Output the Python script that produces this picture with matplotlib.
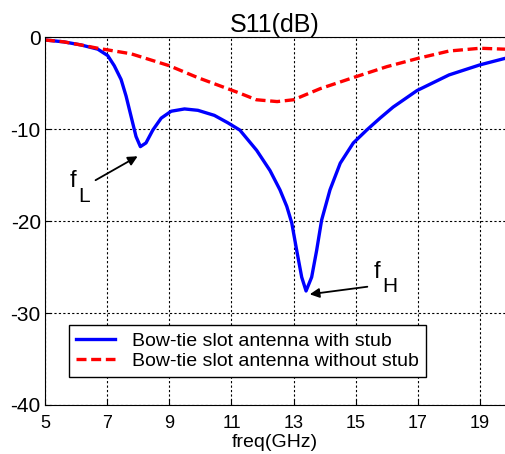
import numpy as np
import matplotlib.pyplot as plt

plt.rcParams['font.family'] = ['Liberation Sans', 'DejaVu Sans']
plt.rcParams['axes.unicode_minus'] = False

# Bow-tie slot antenna with stub
f_stub = [5.0, 5.6, 6.16, 6.7, 7.02, 7.23, 7.45, 7.61, 7.77, 7.93, 8.07, 8.25, 8.47,
          8.74, 9.06, 9.49, 9.92, 10.45, 10.88, 11.27, 11.81, 12.24, 12.56, 12.78,
          12.94, 13.1, 13.26, 13.4, 13.58, 13.74, 13.9, 14.17, 14.5, 14.92, 15.35,
          15.78, 16.2, 16.97, 18.0, 19.0, 19.8]
s11_stub = [-0.3, -0.5, -0.84, -1.3, -2.0, -3.1, -4.6, -6.4, -8.6, -10.8, -11.9, -11.5,
            -10.1, -8.8, -8.05, -7.8, -7.95, -8.5, -9.3, -10.1, -12.3, -14.5, -16.6,
            -18.4, -20.2, -23.2, -26.1, -27.6, -26.1, -23.2, -19.9, -16.6, -13.7,
            -11.5, -10.1, -8.8, -7.6, -5.8, -4.1, -3.0, -2.3]

# Bow-tie slot antenna without stub
f_nostub = [5.0, 5.6, 6.16, 6.7, 7.77, 9.0, 9.92, 11.2, 11.8, 12.47, 13.0, 13.85, 15.0,
            16.0, 17.0, 18.0, 19.0, 19.8]
s11_nostub = [-0.3, -0.5, -0.84, -1.2, -1.8, -3.1, -4.4, -6.0, -6.8, -7.0, -6.8, -5.6,
              -4.3, -3.2, -2.3, -1.5, -1.2, -1.3]

xticks = [5, 7, 9, 11, 13, 15, 17, 19]
yticks = [0, -10, -20, -30, -40]

fig = plt.figure(figsize=(5.05, 4.54), dpi=100)
ax = fig.add_axes([0.089, 0.108, 0.911, 0.81])

ax.plot(f_stub, s11_stub, color='#0000ff', lw=2.4, label='Bow-tie slot antenna with stub')
ax.plot(f_nostub, s11_nostub, color='#ff0000', lw=2.4, dashes=(3, 1.4),
        label='Bow-tie slot antenna without stub')

ax.set_xlim(5, 19.8)
ax.set_ylim(-40, 0)
ax.set_xticks(xticks)
ax.set_yticks(yticks)
ax.tick_params(direction='in', length=4)
ax.tick_params(axis='x', labelsize=13, pad=7)
ax.tick_params(axis='y', labelsize=15, pad=3)
ax.grid(True, color='black', linestyle=(0, (2, 2)), lw=0.8)
ax.spines['right'].set_visible(False)
ax.set_title('S11(dB)', fontsize=18, pad=3)
ax.set_xlabel('freq(GHz)', fontsize=14, labelpad=2)

# f_L marker
ax.annotate('', xy=(8.06, -12.8), xytext=(6.55, -15.7),
            arrowprops=dict(arrowstyle='-|>', color='black', lw=1.3, mutation_scale=14))
ax.text(5.8, -16.3, 'f', fontsize=17, ha='left', va='baseline')
ax.text(6.06, -17.9, 'L', fontsize=15, ha='left', va='baseline')
# f_H marker
ax.annotate('', xy=(13.43, -28.0), xytext=(15.46, -27.1),
            arrowprops=dict(arrowstyle='-|>', color='black', lw=1.3, mutation_scale=14))
ax.text(15.56, -26.2, 'f', fontsize=17, ha='left', va='baseline')
ax.text(15.85, -27.7, 'H', fontsize=15, ha='left', va='baseline')

leg = ax.legend(loc='lower left', bbox_to_anchor=(0.052, 0.076), borderaxespad=0,
                fontsize=14, fancybox=False, edgecolor='black', framealpha=1,
                handlelength=2.0, handletextpad=0.9, borderpad=0.35, labelspacing=0.15)
leg.get_frame().set_linewidth(1.0)

fig.savefig('out.png', dpi=100)
